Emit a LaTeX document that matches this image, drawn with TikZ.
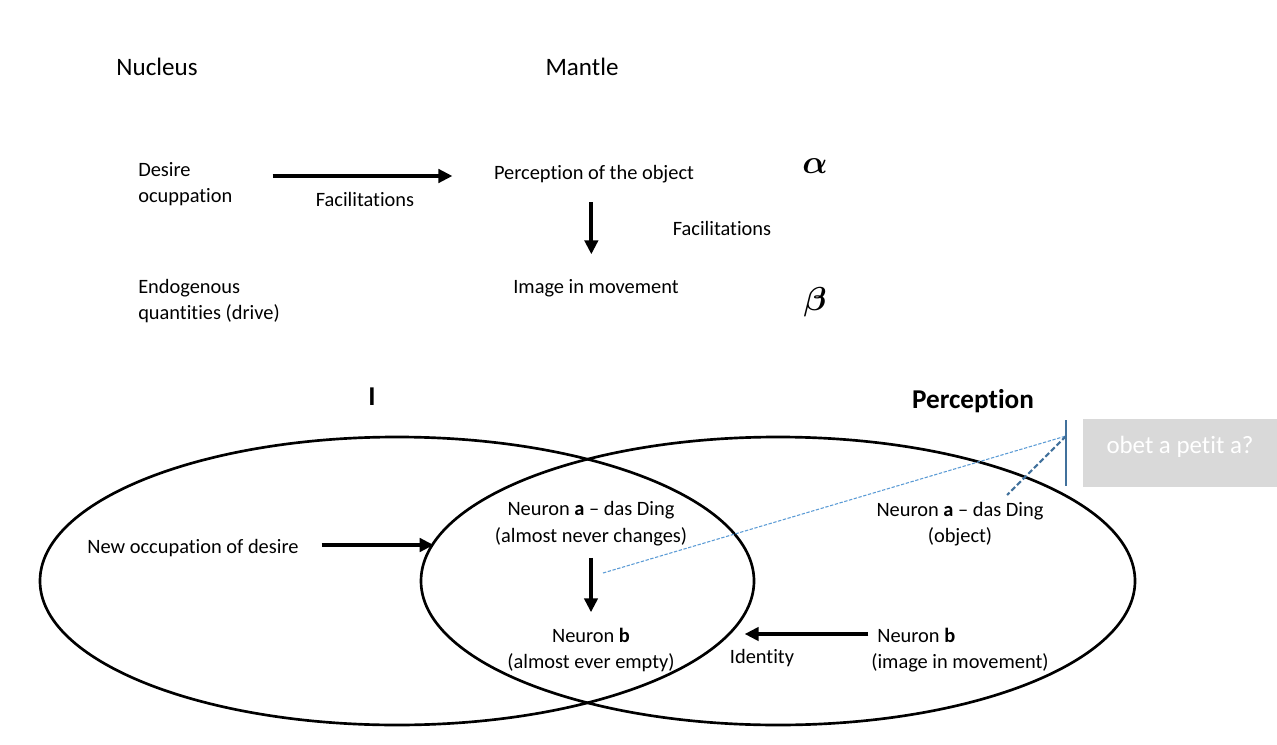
\documentclass[tikz,border=0pt]{standalone}
\usepackage{amsmath}
\usepackage{fontspec}
\setmainfont{Carlito}[Ligatures=NoCommon]
\usetikzlibrary{arrows.meta,positioning,shapes.geometric}
\definecolor{setblack}{HTML}{000000}
\definecolor{linkblue}{HTML}{5B9BD5}
\definecolor{barblue}{HTML}{41719C}
\definecolor{boxgray}{HTML}{D9D9D9}
\tikzset{
  txt/.style={inner sep=0pt,align=center,font=\fontsize{15.3}{20}\selectfont},
  head/.style={inner sep=0pt,font=\fontsize{18.8}{22}\selectfont},
  bighead/.style={inner sep=0pt,font=\fontsize{20.4}{24}\selectfont\bfseries},
  greek/.style={inner sep=0pt,font=\fontsize{24}{28}\selectfont},
  set/.style={ellipse,draw=setblack,line width=2pt,minimum width=535.5pt,minimum height=216pt,inner sep=0pt},
  ar/.style={-{Triangle[length=10.5pt,width=10pt]},line width=3pt,draw=black},
  thinlink/.style={draw=linkblue,line width=0.8pt,dash pattern=on 2.5pt off 1.2pt},
  thicklink/.style={draw=barblue,line width=1.6pt,dash pattern=on 4pt off 2pt},
  tagbox/.style={fill=boxgray,inner sep=0pt,minimum width=145.5pt,minimum height=51pt},
}
\begin{document}
\begin{tikzpicture}[x=0.75pt,y=-0.75pt]
  \useasboundingbox (0,0) rectangle (1277,745);
  % upper scheme
  \node[head] (nucleus) at (157,67) {Nucleus};
  \node[head] (mantle) at (582,67) {Mantle};
  \node[txt,align=left,anchor=west] (desire) at (138,184) {Desire\\ocuppation};
  \node[txt] (percobj) at (594,174) {Perception of the object};
  \node[txt] (fac1) at (365,199) {Facilitations};
  \node[txt] (fac2) at (722,228) {Facilitations};
  \node[txt,align=left,anchor=west] (endog) at (138,301) {Endogenous\\quantities (drive)};
  \node[txt] (image) at (596,288) {Image in movement};
  \node[greek] (alpha) at (815,166) {$\boldsymbol{\alpha}$};
  \node[greek] (beta) at (815,302) {$\boldsymbol{\beta}$};
  \draw[ar,shorten <=30pt,shorten >=31pt] ([yshift=-1.5pt]desire.east |- percobj.west) -- ([yshift=-1.5pt]percobj.west);
  \draw[ar,shorten <=14.5pt,shorten >=18.5pt] ([xshift=-2pt]percobj.south) -- ([xshift=-3.5pt]image.north);

  % the two sets
  \node[bighead] (ilabel) at (372,397) {I};
  \node[bighead] (perclabel) at (973,401) {Perception};
  \node[set] (leftset) at (397,581) {};
  \node[set] (rightset) at (778,581) {};
  \node[txt] (newocc) at (193,548) {New occupation of desire};
  \node[txt] (neurona) at (591,524) {Neuron \textbf{a} -- das Ding\\(almost never changes)};
  \node[txt] (neuronb) at (591,650) {Neuron \textbf{b}\\(almost ever empty)};
  \node[txt] (objecta) at (960,524) {Neuron \textbf{a} -- das Ding\\(object)};
  \node[txt,align=left] (imageb) at (960,650) {\hspace*{4.5pt}Neuron \textbf{b}\\(image in movement)};
  \node[txt] (identity) at (762,658) {Identity};
  \draw[ar,shorten <=17pt,shorten >=-10.5pt] ([yshift=2.25pt]newocc.east) -- ([yshift=2.25pt]newocc.east -| rightset.west);
  \draw[ar,shorten <=8.5pt,shorten >=11.5pt] (neurona.south) -- (neuronb.north);
  \draw[ar,shorten <=2pt,shorten >=-8pt] ([yshift=12pt]imageb.west) -- ([yshift=12pt]imageb.west -| leftset.east);

  % petit a
  \coordinate (bartop) at (1066,420);
  \coordinate (barbot) at (1066,486);
  \coordinate (bartip) at (1066,436);
  \coordinate (dingpt) at (603,573);
  \coordinate (objpt) at (1007,495);
  \draw[barblue,line width=2.2pt] (bartop) -- (barbot);
  \draw[thinlink] (dingpt) -- (bartip);
  \draw[thicklink] (bartip) -- (objpt);
  \node[tagbox] (petita) at (1180,453) {};
  \node[txt,text=white,font=\fontsize{18.7}{22}\selectfont] at (1180,447) {obet a petit a?};
\end{tikzpicture}
\end{document}
